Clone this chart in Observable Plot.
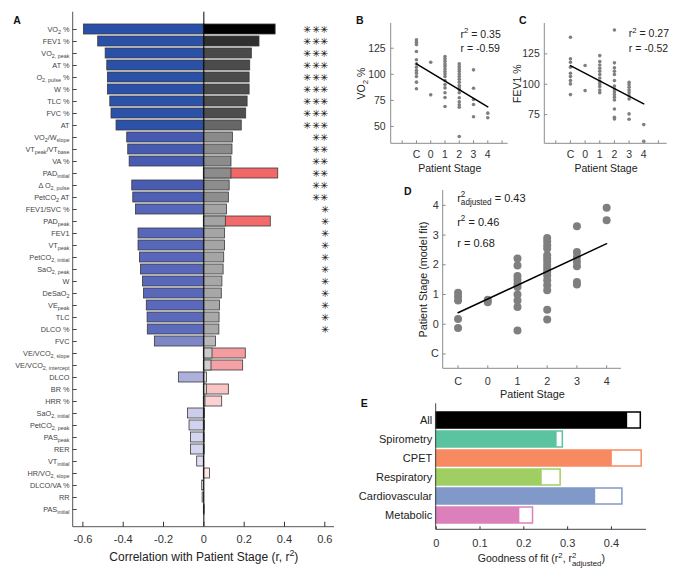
<!DOCTYPE html>
<html><head><meta charset="utf-8">
<script src="https://cdn.jsdelivr.net/npm/d3@7"></script>
<script src="https://cdn.jsdelivr.net/npm/@observablehq/plot@0.6"></script>
<style>
body{margin:0;background:#fff;}
#fig{position:relative;width:675px;height:574px;overflow:hidden;}
#fig svg{position:absolute;overflow:visible;}
</style></head><body><div id="fig"></div>
<script>
// ---------------- DATA ----------------
const stageTicks = [-1, 0, 1, 2, 3, 4];
const stageNames = ["C", "0", "1", "2", "3", "4"];

// Panel A: correlation (r) and r^2 of each variable with patient stage
const aLabels = ["VO_{2} %", "FEV1 %", "VO_{2, peak}", "AT %", "O_{2, pulse} %", "W %", "TLC %", "FVC %", "AT",
  "VO_{2}/W_{slope}", "VT_{peak}/VT_{base}", "VA %", "PAD_{initial}", "Δ O_{2, pulse}", "PetCO_{2} AT",
  "FEV1/SVC %", "PAD_{peak}", "FEV1", "VT_{peak}", "PetCO_{2, initial}", "SaO_{2, peak}", "W", "DeSaO_{2}",
  "VE_{peak}", "TLC", "DLCO %", "FVC", "VE/VCO_{2, slope}", "VE/VCO_{2, intercept}", "DLCO", "BR %", "HRR %",
  "SaO_{2, initial}", "PetCO_{2, peak}", "PAS_{peak}", "RER", "VT_{initial}", "HR/VO_{2, slope}", "DLCO/VA %", "RR", "PAS_{initial}"];
const aR = [-0.595, -0.524, -0.487, -0.479, -0.476, -0.476, -0.464, -0.458, -0.433, -0.380, -0.375, -0.368, 0.369,
  -0.355, -0.350, -0.337, 0.332, -0.324, -0.324, -0.317, -0.312, -0.302, -0.297, -0.283, -0.279, -0.278, -0.243,
  0.208, 0.195, -0.124, 0.124, 0.091, -0.079, -0.071, -0.064, -0.064, -0.033, 0.030, -0.008, -0.006, 0.004];
const aR2 = [0.356, 0.276, 0.238, 0.230, 0.227, 0.227, 0.217, 0.210, 0.188, 0.144, 0.142, 0.137, 0.137, 0.128,
  0.124, 0.115, 0.109, 0.105, 0.105, 0.101, 0.098, 0.092, 0.089, 0.080, 0.078, 0.077, 0.060, 0.043, 0.038, 0.016,
  0.015, 0.008, 0.006, 0.005, 0.004, 0.004, 0.001, 0.001, 0, 0, 0];
const aStars = [3,3,3,3,3,3,3,3,3, 2,2,2,2,2,2, 1,1,1,1,1,1,1,1,1,1,1, 0,0,0,0,0,0,0,0,0,0,0,0,0,0,0];

// Panel B: VO2 % by stage
const vo2Pct = [
  [-1, [133, 130.8, 128.5, 121.8, 113.9, 110, 106.8, 103.6, 101.1, 97.9, 92.5, 86.1]],
  [0, [111.6, 80.3]],
  [1, [117, 114.8, 112.6, 110, 107.8, 105.2, 102.7, 100.4, 97.9, 94.1, 90.2, 87, 82.3, 77.8, 69.2]],
  [2, [110, 107.5, 105.2, 103, 100.4, 97.9, 95.3, 92.5, 89.3, 87, 85.1, 82.3, 77.5, 73.6, 70.8, 68.5, 40.4]],
  [3, [104.3, 86.7, 75.9, 71.1, 59.3]],
  [4, [62.8, 58.3]]
];
// Panel C: FEV1 % by stage
const fev1Pct = [
  [-1, [138.7, 120.9, 118.1, 114, 109, 106.3, 103, 100.3, 91.5]],
  [0, [115.4, 94.8]],
  [1, [123.6, 118.7, 115.9, 113.2, 110.7, 108, 105.2, 102.5, 100.3, 98.1, 95.3, 93.1]],
  [2, [144.7, 117.6, 113.5, 110.7, 108, 103, 98.6, 96.1, 93.9, 91.5, 89.3, 87.1, 79.7, 72.8, 71.4]],
  [3, [101.6, 99.7, 97.5, 95.3, 93.1, 90.6, 87.9, 75.6, 71.2]],
  [4, [66.8, 53]]
];
// Panel D: model-fitted stage by stage
const modelStage = [
  [-1, [1.06, 0.93, 0.8, 0.18, -0.13]],
  [0, [0.82, 0.74]],
  [1, [2.21, 1.98, 1.62, 1.5, 1.36, 1.25, 1.0, 0.8, 0.58, -0.21]],
  [2, [2.9, 2.79, 2.66, 2.55, 2.32, 2.21, 2.1, 1.98, 1.87, 1.76, 1.64, 1.48, 1.31, 1.14, 0.49, 0.16]],
  [3, [3.3, 2.43, 2.26, 2.1, 1.95, 1.42, 1.34]],
  [4, [3.92, 3.5]]
];
const fitStages = [-1, 4];
const vo2Fit = [110.1, 68.7];
const fev1Fit = [115.4, 83.9];
const modelFit = [0.385, 2.71];

// Panel E: goodness of fit per variable group
const eGroups = ["All", "Spirometry", "CPET", "Respiratory", "Cardiovascular", "Metabolic"];
const eR2 = [0.467, 0.289, 0.469, 0.284, 0.425, 0.221];
const eAdj = [0.437, 0.276, 0.402, 0.242, 0.364, 0.191];

// ---------------- HELPERS ----------------
const NS = "http://www.w3.org/2000/svg";
const FONT = '"Liberation Sans", Arial, Helvetica, sans-serif';
const fig = document.getElementById("fig");
const baseStyle = {fontFamily: FONT, overflow: "visible", background: "transparent"};
const STAR = "\u2733\uFE0E";

function place(svg, left, top) {
  svg.style.position = "absolute"; svg.style.left = left + "px"; svg.style.top = top + "px";
  fig.appendChild(svg);
}
function axisLines(sides, stroke, sw = 1) {
  return (index, scales, values, dims) => {
    const {width, height, marginLeft: l, marginRight: r, marginTop: t, marginBottom: b} = dims;
    const g = document.createElementNS(NS, "g");
    g.setAttribute("stroke", stroke); g.setAttribute("stroke-width", sw); g.setAttribute("fill", "none");
    const line = (x1, y1, x2, y2) => {
      const e = document.createElementNS(NS, "line");
      e.setAttribute("x1", x1); e.setAttribute("y1", y1); e.setAttribute("x2", x2); e.setAttribute("y2", y2);
      g.appendChild(e);
    };
    if (sides.includes("l")) line(l, t, l, height - b);
    if (sides.includes("b")) line(l, height - b, width - r, height - b);
    return g;
  };
}
function richify(root) {
  root.querySelectorAll("text").forEach(el => {
    const s = el.textContent;
    if (!/[_^~]\{/.test(s)) return;
    const F = parseFloat(getComputedStyle(el).fontSize) || 10;
    while (el.firstChild) el.removeChild(el.firstChild);
    const off = {n: 0, "_": 0.28 * F, "~": 0.32 * F, "^": -0.42 * F};
    let cur = 0, prev = null;
    const add = (txt, kind) => {
      if (!txt) return;
      const ts = document.createElementNS(NS, "tspan");
      const dy = off[kind] - cur;
      if (dy) ts.setAttribute("dy", dy.toFixed(2));
      if (kind !== "n") ts.setAttribute("font-size", (0.74 * F).toFixed(2));
      ts.textContent = txt;
      el.appendChild(ts);
      if (kind === "~" && prev) ts.setAttribute("dx", (-prev.getComputedTextLength()).toFixed(2));
      cur = off[kind]; prev = ts;
    };
    const re = /([_^~])\{([^}]*)\}/g;
    let i = 0, m;
    while ((m = re.exec(s))) { add(s.slice(i, m.index), "n"); add(m[2], m[1]); i = re.lastIndex; }
    add(s.slice(i), "n");
  });
}
const stageFmt = d => { const i = stageTicks.indexOf(d); return i < 0 ? "" : stageNames[i]; };
const flatten = arr => arr.flatMap(([s, vs]) => vs.map(v => ({stage: s, value: v})));
const fitRows = f => fitStages.map((s, i) => ({stage: s, value: f[i]}));

// ---------------- PANEL A ----------------
const blueOf = d3.scaleLinear().domain([0, 0.07, 0.125, 0.245, 0.28, 0.34, 0.355, 0.385, 0.43, 0.6])
  .range(["#e8e8f6", "#d2d3ee", "#adafdc", "#7c86c8", "#5a69bb", "#5666ba", "#4a5cb2", "#4659b1", "#2c51a8", "#2a4fa8"]).clamp(true);
const redOf = d3.scaleLinear().domain([0, 0.03, 0.09, 0.124, 0.2, 0.33, 0.4])
  .range(["#fff4f4", "#fde6e6", "#fad2d2", "#f8c4c4", "#f4a0a4", "#f26a6a", "#f26666"]).clamp(true);
const grayOf = d3.scaleLinear().domain([0, 0.005, 0.016, 0.04, 0.06, 0.077, 0.115, 0.124, 0.145, 0.188, 0.21, 0.24, 0.276, 0.356])
  .range(["#f0f0f0", "#e8e8e8", "#dedede", "#cdcdcd", "#b8b8b8", "#a9a9a9", "#a3a3a3", "#8e8e8e", "#8a8a8a", "#676767", "#4e4e4e", "#4a4a4a", "#303030", "#000000"]).clamp(true);

const aRows = aLabels.map((label, i) => ({label, r: aR[i], r2: aR2[i], stars: aStars[i]}));
const plotA = Plot.plot({
  width: 340, height: 574, marginLeft: 72.7, marginRight: 6, marginTop: 11.7, marginBottom: 47.3,
  style: baseStyle,
  x: {domain: [-0.648, 0.648]},
  y: {domain: aLabels, paddingInner: 0.18, paddingOuter: 0.73},
  marks: [
    Plot.barX(aRows, {y: "label", x: "r", fill: d => d.r < 0 ? blueOf(-d.r) : redOf(d.r), stroke: "#3a3a3a", strokeWidth: 0.8}),
    Plot.barX(aRows, {y: "label", x: "r2", fill: d => grayOf(d.r2), stroke: "#3a3a3a", strokeWidth: 0.8}),
    Plot.ruleX([0], {stroke: "#000", strokeWidth: 1}),
    Plot.text(aRows.filter(d => d.stars > 0), {y: "label", text: d => Array(d.stars).fill(STAR).join("\u200A"),
      frameAnchor: "right", textAnchor: "end", dx: -6, fontSize: 9.5, fill: "#111"}),
    axisLines("lb", "#555"),
    Plot.axisY({tickSize: 4, dx: 4, tickPadding: 3.7, fontSize: 7.3, color: "#444", label: null}),
    Plot.axisX({ticks: [-0.6, -0.4, -0.2, 0, 0.2, 0.4, 0.6], tickFormat: d => String(d), tickSize: 5, dy: -5,
      tickPadding: 7.5, fontSize: 11, color: "#333", label: null}),
    Plot.text(["Correlation with Patient Stage (r, r^{2})"], {text: d => d, frameAnchor: "bottom", dy: 30.3,
      lineAnchor: "middle", fontSize: 12, fill: "#222"})
  ]
});
place(plotA, 0, 0);

// ---------------- SCATTER PANELS ----------------
function scatter(o) {
  return Plot.plot({
    width: o.width, height: o.height, marginLeft: o.ml, marginRight: o.mr, marginTop: o.mt, marginBottom: o.mb,
    style: baseStyle,
    x: {domain: o.xDomain}, y: {domain: o.yDomain},
    marks: [
      axisLines("lb", "#8c8c8c"),
      Plot.dot(o.pts, {x: "stage", y: "value", r: o.r, fill: "#7f7f7f"}),
      Plot.line(o.fit, {x: "stage", y: "value", stroke: "#000", strokeWidth: 1.5}),
      Plot.axisX({ticks: o.xTicks, tickFormat: stageFmt, tickSize: 3, dy: -3, tickPadding: o.xPad,
        fontSize: o.fs, color: "#333", stroke: "#8c8c8c", label: null}),
      Plot.axisY({ticks: o.yTicks, tickFormat: o.yFmt, tickSize: 3, dx: 3, tickPadding: o.yPad,
        fontSize: o.fs, color: "#333", stroke: "#8c8c8c", label: null}),
      Plot.text([o.ylabel], {text: d => d, frameAnchor: "left", rotate: -90, dx: o.ylabelDx, fontSize: o.fs,
        fill: "#222", textAnchor: "middle", lineAnchor: "middle"}),
      Plot.text(["Patient Stage"], {text: d => d, frameAnchor: "bottom", dy: o.xlabelDy, fontSize: o.fs,
        fill: "#222", lineAnchor: "middle"}),
      ...o.notes.map(n => Plot.text([n.text], {text: d => d, frameAnchor: "top-left", dx: n.dx, dy: n.dy,
        textAnchor: "start", lineAnchor: "middle", fontSize: n.fs, fill: "#222"}))
    ]
  });
}

const plotB = scatter({
  pts: flatten(vo2Pct), fit: fitRows(vo2Fit), width: 175, height: 180, ml: 50.7, mr: 7.3, mt: 23, mb: 36.7,
  xDomain: [-2.77, 5.43], yDomain: [33.4, 148.7], xTicks: [-2, -1, 0, 1, 2, 3, 4, 5], yTicks: [50, 75, 100, 125],
  yFmt: d => String(d), r: 1.8, xPad: 6.7, yPad: 5.5, fs: 10.5, ylabel: "VO_{2} %", ylabelDx: -30, xlabelDy: 25,
  notes: [{text: "r^{2} = 0.35", dx: 69.3, dy: 11, fs: 10.5}, {text: "r = -0.59", dx: 69.3, dy: 25.3, fs: 10.5}]
});
place(plotB, 340, 0);

const plotC = scatter({
  pts: flatten(fev1Pct), fit: fitRows(fev1Fit), width: 170, height: 180, ml: 39.3, mr: 8.3, mt: 23, mb: 36.7,
  xDomain: [-2.75, 5.6], yDomain: [51, 150], xTicks: [-2, -1, 0, 1, 2, 3, 4, 5], yTicks: [75, 100, 125],
  yFmt: d => String(d), r: 1.8, xPad: 6.7, yPad: 5, fs: 10.5, ylabel: "FEV1 %", ylabelDx: -27.6, xlabelDy: 25,
  notes: [{text: "r^{2} = 0.27", dx: 84, dy: 10.3, fs: 10.5}, {text: "r = -0.52", dx: 84, dy: 25.3, fs: 10.5}]
});
place(plotC, 505, 0);

const plotD = scatter({
  pts: flatten(modelStage), fit: fitRows(modelFit), width: 285, height: 220, ml: 52.7, mr: 54, mt: 10, mb: 31.7,
  xDomain: [-1.5, 4.5], yDomain: [-1.5, 4.5], xTicks: stageTicks, yTicks: stageTicks,
  yFmt: stageFmt, r: 4, xPad: 9, yPad: 4.4, fs: 10.8, ylabel: "Patient Stage (model fit)", ylabelDx: -19.4, xlabelDy: 25.7,
  notes: [{text: "r^{2}~{adjusted} = 0.43", dx: 14, dy: 7.5, fs: 11}, {text: "r^{2} = 0.46", dx: 14, dy: 32, fs: 11},
    {text: "r = 0.68", dx: 14, dy: 53, fs: 11}]
});
place(plotD, 390, 180);

// ---------------- PANEL E ----------------
const eRows = eGroups.map((group, i) => ({group, r2: eR2[i], adj: eAdj[i]}));
const plotE = Plot.plot({
  width: 335, height: 179, marginLeft: 95.7, marginRight: 29, marginTop: 8.3, marginBottom: 44.7,
  style: baseStyle,
  x: {domain: [0, 0.48]},
  y: {domain: eGroups, paddingInner: 0.167, paddingOuter: 0.36, align: 0.6},
  color: {domain: eGroups, range: ["#000000", "#5cc3a0", "#f88a62", "#9fcf63", "#8099c8", "#dc80bb"]},
  marks: [
    Plot.barX(eRows, {y: "group", x: "r2", fill: "white", stroke: "group", strokeWidth: 1.5}),
    Plot.barX(eRows, {y: "group", x: "adj", fill: "group"}),
    axisLines("lb", "#444"),
    Plot.axisY({tickSize: 0, tickPadding: 4, fontSize: 11, color: "#222", label: null}),
    Plot.axisX({ticks: [0, 0.1, 0.2, 0.3, 0.4], tickFormat: d => String(d), tickSize: 3, dy: -3, tickPadding: 9,
      fontSize: 11, color: "#333", label: null}),
    Plot.text(["Goodness of fit (r^{2}, r^{2}~{adjusted})"], {text: d => d, frameAnchor: "bottom", dy: 29,
      lineAnchor: "middle", fontSize: 10.5, fill: "#222"})
  ]
});
place(plotE, 340, 395);

// ---------------- PANEL LETTERS ----------------
const ov = d3.create("svg").attr("width", 675).attr("height", 574).style("left", "0px").style("top", "0px");
[["A", 13.3, 24], ["B", 356, 24], ["C", 519, 24], ["D", 404, 195], ["E", 360.7, 407.3]].forEach(([t, x, y]) =>
  ov.append("text").attr("x", x).attr("y", y).attr("font-weight", "bold").attr("font-size", 10.5)
    .attr("font-family", FONT).attr("fill", "#111").text(t));
fig.appendChild(ov.node());

richify(fig);
</script></body></html>
